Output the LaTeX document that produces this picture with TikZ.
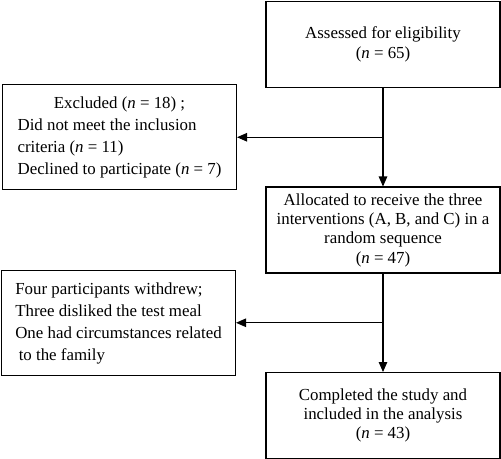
\documentclass[tikz,border=0pt]{standalone}
\usepackage{fontspec}
\setmainfont{Liberation Serif}
\usetikzlibrary{positioning, arrows.meta, calc}
\renewcommand{\arraystretch}{1.14}
\tikzset{
  process/.style={rectangle, minimum width=4.68cm, minimum height=1.72cm, inner ysep=1pt, text centered, draw=black, line width=0.6pt, align=center},
  sidebox/.style={rectangle, minimum width=4.68cm, minimum height=2.1cm, inner ysep=1pt, draw=black, line width=0.6pt},
  arrow/.style={line width=0.6pt, -{Triangle[length=0.2cm, width=0.17cm]}}
}

\begin{document}
\begin{tikzpicture}[x=0.02cm, y=-0.02cm, node distance=1.97cm, every node/.style={font=\fontsize{9.6}{11}\selectfont}]
  \useasboundingbox (0,0) rectangle (501,459);

  \node (assess) [process] at (383,44.5) {Assessed for eligibility\\(\textit{n} = 65)};
  \node (alloc) [process, below=of assess] {Allocated to receive the three\\interventions (A, B, and C) in a\\random sequence\\(\textit{n} = 47)};
  \node (compl) [process, below=of alloc] {Completed the study and\\included in the analysis\\(\textit{n} = 43)};

  % branch points on the main line
  \coordinate (split1) at ($(assess.south)!0.5!(alloc.north)$);
  \coordinate (split2) at ($(alloc.south)!0.5!(compl.north)$);

  \node (excl) [sidebox, left=2.92cm of split1] {\begin{tabular}{@{}l@{}}
    \multicolumn{1}{@{}c@{}}{Excluded (\textit{n} = 18) ;}\\
    Did not meet the inclusion\\
    criteria (\textit{n} = 11)\\
    Declined to participate (\textit{n} = 7)
  \end{tabular}};
  \node (withdr) [sidebox, left=2.94cm of split2] {\begin{tabular}{@{}l@{}}
    Four participants withdrew;\\
    Three disliked the test meal\\
    One had circumstances related\\
    \hspace{2pt}to the family
  \end{tabular}};

  \draw [arrow] (assess) -- (alloc);
  \draw [arrow] (alloc) -- (compl);

  % exclusions to the left
  \draw [arrow] (split1) -- (excl);
  \draw [arrow] (split2) -- (withdr);

\end{tikzpicture}
\end{document}
